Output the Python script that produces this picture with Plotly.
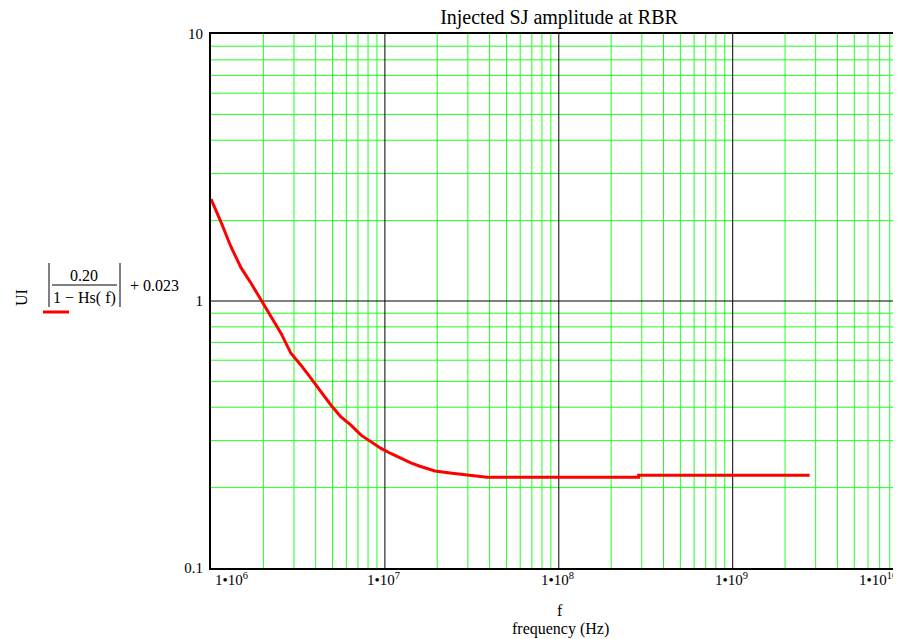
import numpy as np
import plotly.graph_objects as go

# ---- data ----
freq_hz = [1.0e6, 1.14e6, 1.30e6, 1.49e6, 1.70e6, 1.94e6, 2.21e6, 2.53e6, 2.88e6,
           3.29e6, 3.76e6, 4.29e6, 4.90e6, 5.59e6, 6.38e6, 7.29e6, 8.32e6, 9.5e6,
           1.08e7, 1.24e7, 1.41e7, 1.59e7, 1.94e7, 2.37e7, 2.96e7, 3.86e7,
           2.88e8, 2.88e8, 2.77e9]
ui_amp = [2.41, 1.98, 1.60, 1.33, 1.165, 1.01, 0.873, 0.756, 0.637,
          0.575, 0.513, 0.457, 0.407, 0.368, 0.343, 0.3145, 0.297, 0.2805,
          0.2685, 0.257, 0.2475, 0.2405, 0.231, 0.2271, 0.2227, 0.2186,
          0.2186, 0.2226, 0.2226]

x_major = [1e6, 1e7, 1e8, 1e9, 1e10]
x_tick_text = ["1•10<sup>6</sup>", "1•10<sup>7</sup>", "1•10<sup>8</sup>",
               "1•10<sup>9</sup>", "1•10<sup>10</sup>"]
y_major = [0.1, 1, 10]
y_tick_text = ["0.1", "1", "10"]
x_minor = [m * d for d in [1e6, 1e7, 1e8, 1e9] for m in range(2, 10)]
y_minor = [m * d for d in [0.1, 1] for m in range(2, 10)]

title_text = "Injected SJ amplitude at RBR"
x_label_top = "f"
x_label_bottom = "frequency (Hz)"

# ---- layout geometry (screen pixels; page body has an 8px margin) ----
OFF = 8
SW, SH = 901, 639
L, T, B, R = 211, 34, 568, 901
W, H = SW - OFF, SH - OFF
PW, PH = R - L, B - T
DEC = 173.9
FONT = "Liberation Serif"
GREEN = "#22ff22"


def px(x):
    return (x - L) / PW


def py(y):
    return (B - y) / PH


x_hi = 6 + PW / DEC
x_lo_v, x_hi_v = 10 ** 6, 10 ** x_hi

fig = go.Figure()

# minor grid lines (green), drawn as plain line traces on the log axes
gx, gy = [], []
for v in x_minor:
    gx += [v, v, None]
    gy += [0.1, 10, None]
for v in y_minor:
    gx += [x_lo_v, x_hi_v, None]
    gy += [v, v, None]
fig.add_trace(go.Scatter(x=gx, y=gy, mode="lines", line=dict(color=GREEN, width=1),
                         showlegend=False, hoverinfo="skip", connectgaps=False))

# major grid lines (black)
mx, my = [], []
for v in x_major[1:-1]:
    mx += [v, v, None]
    my += [0.1, 10, None]
mx += [x_lo_v, x_hi_v, None]
my += [1, 1, None]
fig.add_trace(go.Scatter(x=mx, y=my, mode="lines", line=dict(color="#000000", width=1),
                         showlegend=False, hoverinfo="skip", connectgaps=False))

fig.add_trace(go.Scatter(x=freq_hz, y=ui_amp, mode="lines",
                         line=dict(color="#ff0000", width=3),
                         showlegend=False, hoverinfo="skip"))

fig.update_layout(
    width=W, height=H,
    margin=dict(l=L - OFF, r=0, t=T - OFF, b=SH - B, pad=0),
    paper_bgcolor="white", plot_bgcolor="white",
    font=dict(family=FONT, color="black", size=15),
    showlegend=False,
    title=dict(text=title_text, x=(559 - OFF) / W, xanchor="center",
               y=1 - (17 - OFF) / H, yanchor="middle",
               font=dict(family=FONT, size=20, color="black")),
    xaxis=dict(type="log", range=[6, x_hi], tickmode="array", tickvals=x_major,
               showticklabels=False, ticks="", showgrid=False,
               showline=True, linecolor="black", linewidth=1.5, mirror=True,
               zeroline=False),
    yaxis=dict(type="log", range=[-1, 1], tickmode="array", tickvals=y_major,
               ticktext=y_tick_text, ticks="", ticklabelstandoff=3,
               tickfont=dict(family=FONT, size=15, color="black"),
               showgrid=False,
               showline=True, linecolor="black", linewidth=2, mirror=False,
               zeroline=False),
)

ann = []
# x tick labels
for v, t in zip(x_major, x_tick_text):
    lv = np.log10(v)
    if lv <= 6:
        ann.append(dict(x=lv, xref="x", y=py(579), yref="paper", text=t,
                        xanchor="left", yanchor="middle", showarrow=False,
                        xshift=2, font=dict(family=FONT, size=15)))
    elif lv >= x_hi:
        ann.append(dict(x=1, xref="paper", y=py(579), yref="paper", text=t,
                        xanchor="right", yanchor="middle", showarrow=False,
                        xshift=-2, font=dict(family=FONT, size=15)))
    else:
        ann.append(dict(x=lv, xref="x", y=py(579), yref="paper", text=t,
                        xanchor="center", yanchor="middle", showarrow=False,
                        xshift=-1, font=dict(family=FONT, size=15)))

# x-axis labels
ann.append(dict(x=px(560), y=py(610), xref="paper", yref="paper", text=x_label_top,
                showarrow=False, xanchor="center", yanchor="middle",
                font=dict(family=FONT, size=16)))
ann.append(dict(x=px(560), y=py(629), xref="paper", yref="paper", text=x_label_bottom,
                showarrow=False, xanchor="center", yanchor="middle",
                font=dict(family=FONT, size=16)))

# y-axis label (Mathcad style)
ann.append(dict(x=px(21), y=py(298), xref="paper", yref="paper", text="UI",
                textangle=-90, showarrow=False, xanchor="center", yanchor="middle",
                font=dict(family=FONT, size=16)))
ann.append(dict(x=px(84), y=py(275), xref="paper", yref="paper", text="0.20",
                showarrow=False, xanchor="center", yanchor="middle",
                font=dict(family=FONT, size=16)))
ann.append(dict(x=px(84), y=py(298), xref="paper", yref="paper", text="1 − Hs( f)",
                showarrow=False, xanchor="center", yanchor="middle",
                font=dict(family=FONT, size=16)))
ann.append(dict(x=px(154), y=py(285), xref="paper", yref="paper", text="+ 0.023",
                showarrow=False, xanchor="center", yanchor="middle",
                font=dict(family=FONT, size=16)))
fig.update_layout(annotations=ann)

shapes = [
    dict(type="line", xref="paper", yref="paper", x0=px(52), x1=px(117),
         y0=py(285), y1=py(285), line=dict(color="black", width=1)),
    dict(type="line", xref="paper", yref="paper", x0=px(49), x1=px(49),
         y0=py(263), y1=py(307), line=dict(color="black", width=1)),
    dict(type="line", xref="paper", yref="paper", x0=px(120), x1=px(120),
         y0=py(263), y1=py(307), line=dict(color="black", width=1)),
    dict(type="line", xref="paper", yref="paper", x0=px(43), x1=px(69),
         y0=py(312), y1=py(312), line=dict(color="#ff0000", width=3)),
]
fig.update_layout(shapes=shapes)

fig.write_html("out.html")
